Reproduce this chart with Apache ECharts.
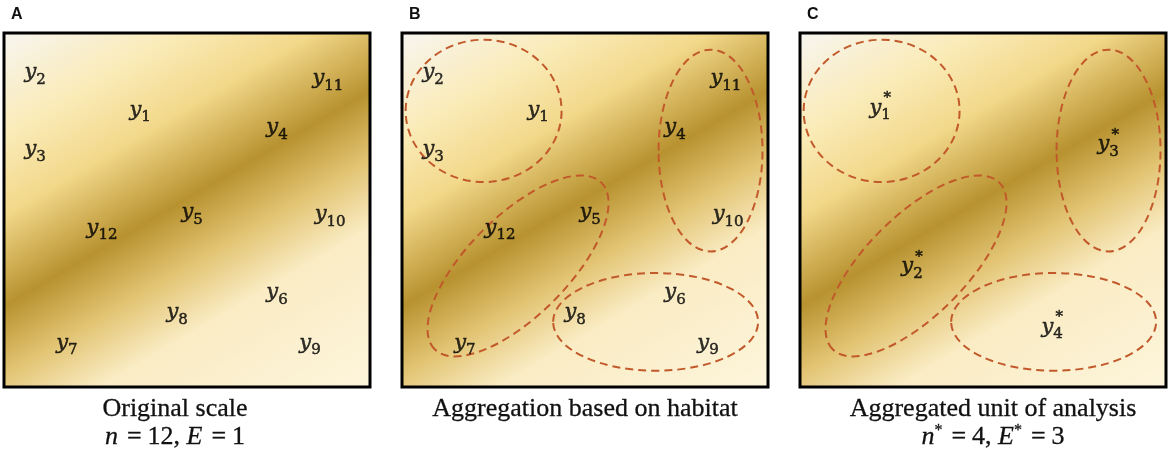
<!DOCTYPE html>
<html>
<head>
<meta charset="utf-8">
<script src="https://cdn.jsdelivr.net/npm/echarts@6/dist/echarts.min.js"></script>
<style>
  html, body { margin: 0; padding: 0; background: #fff; }
  #chart { width: 1170px; height: 455px; }
</style>
</head>
<body>
<div id="chart"></div>
<script>
// panels
const panelLetters = ['A', 'B', 'C'];
const panelLeft = [4, 402, 800];
const captionTop = ['Original scale', 'Aggregation based on habitat', 'Aggregated unit of analysis'];
const captionCenter = [175, 585, 993];

// original observations y1..y12, position in percent of the study area
const pointNames = ['1', '2', '3', '4', '5', '6', '7', '8', '9', '10', '11', '12'];
const pointX = [37.2, 8.5, 8.5, 74.6, 51.4, 74.6, 17.2, 47.3, 83.6, 89.1, 88.5, 26.8];
const pointY = [78.2, 88.7, 67.0, 73.2, 49.2, 26.6, 12.4, 20.9, 12.4, 48.6, 87.0, 44.9];

// aggregated units y1*..y4*
const unitNames = ['1', '2', '3', '4'];
const unitX = [21.9, 30.6, 84.2, 68.9];
const unitY = [78.8, 33.9, 68.4, 16.9];

// habitat patches (dashed ellipses): centre, radii, tilt in degrees
const habX = [22.3, 31.7, 84.3, 69.3];
const habY = [78.0, 34.2, 66.8, 18.4];
const habRx = [21.3, 32.2, 14.2, 28.0];
const habRy = [20.1, 14.1, 28.5, 13.8];
const habTilt = [0, 45, 0, 0];

const SERIF = 'Liberation Serif';
const LABEL_FONT = 'DejaVu Serif';
const chart = echarts.init(document.getElementById('chart'));

const points = pointNames.map((n, i) => [pointX[i], pointY[i], n]);
const units = unitNames.map((n, i) => [unitX[i], unitY[i], n]);
const habitats = habX.map((x, i) => [x, habY[i], habRx[i], habRy[i], habTilt[i]]);

const habitatBg = () => new echarts.graphic.LinearGradient(0.175, -0.1, 0.85, 1.085, [
  { offset: 0, color: '#f7f5f0' },
  { offset: 0.18, color: '#faebb8' },
  { offset: 0.32, color: '#f2d88a' },
  { offset: 0.48, color: '#b8922f' },
  { offset: 0.6, color: '#e2c473' },
  { offset: 0.72, color: '#faecc4' },
  { offset: 1, color: '#fdf5dc' }
]);

// a thin outline of the same colour makes the glyphs as heavy as in the figure
const ink = { color: '#000', textBorderColor: '#000', textBorderWidth: 0.5 };
const labelRich = {
  y: { fontFamily: LABEL_FONT, fontStyle: 'italic', fontSize: 21, lineHeight: 24, ...ink },
  s: { fontFamily: LABEL_FONT, fontSize: 15, lineHeight: 16, padding: [14, 0, 0, 0], ...ink }
};

function labelSeries(idx, data) {
  return {
    type: 'scatter',
    xAxisIndex: idx,
    yAxisIndex: idx,
    symbolSize: 0,
    data: data,
    z: 5,
    silent: true,
    label: {
      show: true,
      position: 'inside',
      formatter: (p) => '{y|y}{s|' + p.data[2] + '}',
      rich: labelRich
    }
  };
}

function habitatSeries(idx) {
  return {
    type: 'custom',
    xAxisIndex: idx,
    yAxisIndex: idx,
    data: habitats,
    z: 3,
    silent: true,
    renderItem: (params, api) => {
      const c = api.coord([api.value(0), api.value(1)]);
      const r = api.size([api.value(2), api.value(3)]);
      return {
        type: 'ellipse',
        x: c[0],
        y: c[1],
        rotation: api.value(4) * Math.PI / 180,
        shape: { cx: 0, cy: 0, rx: r[0], ry: r[1] },
        style: { fill: 'none', stroke: '#c2592b', lineWidth: 2, lineDash: [8, 5] }
      };
    }
  };
}

const grids = panelLeft.map((left) => ({
  left: left, top: 33, width: 366, height: 354,
  show: true,
  backgroundColor: habitatBg(),
  borderColor: '#000',
  borderWidth: 3
}));
const axis = (i) => ({ type: 'value', gridIndex: i, min: 0, max: 100, show: false });

// zrender text style: fill + stroke
const capInk = { fill: '#111', stroke: '#111', lineWidth: 0.3 };
const mathRich = {
  i: { fontFamily: SERIF, fontStyle: 'italic', fontSize: 26, ...capInk },
  r: { fontFamily: SERIF, fontSize: 26, ...capInk },
  eq: { fontFamily: SERIF, fontSize: 26, padding: [0, 6, 0, 9], ...capInk },
  sup: { fontFamily: SERIF, fontSize: 16, padding: [0, 0, 12, 0], ...capInk }
};

const texts = [];
panelLetters.forEach((l, i) => {
  texts.push({
    type: 'text', x: panelLeft[i] + 7, y: 15,
    style: { text: l, font: 'bold 16px Liberation Sans', fill: '#111', verticalAlign: 'middle' }
  });
  texts.push({
    type: 'text', x: captionCenter[i], y: 409,
    style: {
      text: captionTop[i], font: '26px ' + SERIF, ...capInk,
      align: 'center', verticalAlign: 'middle'
    }
  });
});
texts.push({
  type: 'text', x: captionCenter[0], y: 437,
  style: { text: '{i|n}{eq|=}{r|12, }{i|E}{eq|=}{r|1}', rich: mathRich, align: 'center', verticalAlign: 'middle' }
});
texts.push({
  type: 'text', x: captionCenter[2], y: 437,
  style: { text: '{i|n}{sup|*}{eq|=}{r|4, }{i|E}{sup|*}{eq|=}{r|3}', rich: mathRich, align: 'center', verticalAlign: 'middle' }
});

chart.setOption({
  animation: false,
  grid: grids,
  xAxis: [axis(0), axis(1), axis(2)],
  yAxis: [axis(0), axis(1), axis(2)],
  graphic: texts,
  series: [
    labelSeries(0, points),
    habitatSeries(1),
    labelSeries(1, points),
    habitatSeries(2),
    labelSeries(2, units),
    {
      type: 'scatter',
      xAxisIndex: 2,
      yAxisIndex: 2,
      symbolSize: 0,
      data: units,
      z: 6,
      silent: true,
      label: {
        show: true,
        position: 'inside',
        offset: [7, -10],
        formatter: '*',
        fontFamily: LABEL_FONT,
        fontSize: 15,
        ...ink
      }
    }
  ]
});
</script>
</body>
</html>
